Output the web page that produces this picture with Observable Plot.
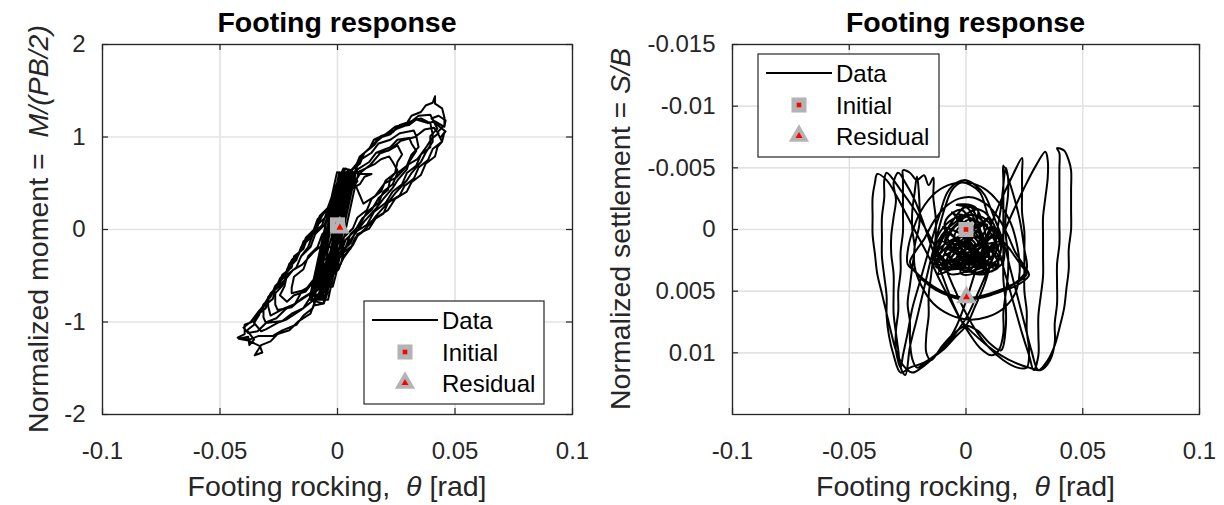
<!DOCTYPE html>
<html>
<head>
<meta charset="utf-8">
<script src="https://cdn.jsdelivr.net/npm/d3@7"></script>
<script src="https://cdn.jsdelivr.net/npm/@observablehq/plot@0.6"></script>
<style>
  body { margin: 0; background: #fff; }
  #wrap { position: relative; width: 1224px; height: 505px; overflow: hidden; background: #fff; }
  #wrap svg { position: absolute; top: 0; }
</style>
</head>
<body>
<div id="wrap"></div>
<script>
// ---------------- DATA ----------------
const xTicks = [-0.1, -0.05, 0, 0.05, 0.1];
const momentTicks = [-2, -1, 0, 1, 2];
const settlementTicks = [-0.015, -0.01, -0.005, 0, 0.005, 0.01];

const titleText = "Footing response";
const xLabelParts = [["Footing rocking,  ", false], ["θ", true], [" [rad]", false]];
const momentLabelParts = [["Normalized moment =  ", false], ["M/(PB/2)", true]];
const settlementLabelParts = [["Normalized settlement = ", false], ["S/B", true]];
const legendLabels = ["Data", "Initial", "Residual"];

// [rotation theta (rad), normalized moment M/(PB/2)]
const momentPath = [
[0,0.05],[0.0015,0.2],[0.003,0.34],[0.004,0.46],[0.005,0.5],[0.0045,0.38],[0.003,0.24],[0.002,0.1],[0.0005,-0.04],[-0.001,-0.18],[-0.0025,-0.32],[-0.0035,-0.46],[-0.005,-0.52],[-0.0075,-0.44],[-0.0065,-0.3],[-0.0058,-0.16],[-0.004,-0.02],[-0.0028,0.12],[-0.0015,0.26],[0.0,0.4],[0.0012,0.54],[0.003,0.6],
[0.0078,0.62],[0.0066,0.48],[0.0054,0.34],[0.0042,0.2],[0.003,0.06],[0.0018,-0.08],[0.0006,-0.22],[-0.0006,-0.36],[-0.0018,-0.5],[-0.003,-0.64],[-0.004,-0.76],[-0.011,-0.76],[-0.01,-0.64],[-0.0088,-0.5],[-0.0076,-0.36],[-0.0064,-0.22],[-0.0052,-0.08],[-0.004,0.06],[-0.0028,0.2],[-0.0016,0.34],[-0.0004,0.48],[0.0008,0.62],
[0.0058,0.56],[0.0055,0.44],[0.0042,0.3],[0.0035,0.16],[0.0018,0.02],[0.0005,-0.12],[-0.0012,-0.26],[-0.0022,-0.4],[-0.0038,-0.54],[-0.0048,-0.66],[-0.008,-0.64],[-0.0092,-0.52],[-0.0078,-0.38],[-0.0068,-0.24],[-0.005,-0.1],[-0.0042,0.04],[-0.0025,0.18],[-0.0018,0.32],[0.0,0.46],[0.0015,0.58],[0.0035,0.66],
[0.0055,0.62],[0.0039,0.48],[0.0031,0.34],[0.0015,0.2],[0.0007,0.06],[-0.0009,-0.08],[-0.0017,-0.22],[-0.0033,-0.36],[-0.0041,-0.5],[-0.0057,-0.64],[-0.0065,-0.76],[-0.0085,-0.74],[-0.0073,-0.64],[-0.0065,-0.5],[-0.0049,-0.36],[-0.0041,-0.22],[-0.0025,-0.08],[-0.0017,0.06],[-0.0001,0.2],[0.0007,0.34],[0.0023,0.48],[0.0031,0.6],
[0.0068,0.62],[0.0062,0.5],[0.0048,0.36],[0.0038,0.22],[0.0025,0.08],[0.0008,-0.06],[-0.0005,-0.2],[-0.0018,-0.34],[-0.003,-0.48],[-0.0045,-0.62],[-0.0055,-0.74],[-0.0085,-0.76],[-0.0105,-0.66],[-0.0095,-0.52],[-0.0085,-0.38],[-0.0068,-0.24],[-0.0058,-0.1],[-0.0042,0.04],[-0.003,0.18],[-0.0015,0.32],[-0.0002,0.46],[0.0012,0.56],
[0.0065,0.6],[0.0058,0.5],[0.0047,0.35],[0.003,0.2],[0.0021,0.05],[0.0004,-0.1],[-0.0005,-0.25],[-0.0021,-0.4],[-0.003,-0.55],[-0.0047,-0.7],[-0.0075,-0.74],[-0.0102,-0.68],[-0.0085,-0.55],[-0.0078,-0.4],[-0.006,-0.25],[-0.0052,-0.1],[-0.0034,0.05],[-0.0025,0.2],[-0.0008,0.35],[0.0001,0.5],[0.0018,0.62],
[0.004,0.6],[0.0048,0.5],[0.0036,0.36],[0.0022,0.22],[0.0012,0.08],[-0.0004,-0.06],[-0.0015,-0.2],[-0.0028,-0.34],[-0.004,-0.48],[-0.0055,-0.58],[-0.0078,-0.56],[-0.0072,-0.42],[-0.0062,-0.28],[-0.0048,-0.14],[-0.0036,0.0],[-0.0022,0.14],[-0.001,0.28],[0.0004,0.42],[0.002,0.52],
[0.006,0.58],[0.011,0.28],[0.016,0.36],[0.02,0.5],[0.025,0.56],[0.03,0.7],[0.034,0.76],[0.038,0.9],[0.04,0.98],[0.043,1.04],[0.041,1.1],[0.037,1.08],[0.033,1.0],[0.027,0.96],[0.022,0.86],[0.018,0.82],[0.014,0.7],[0.01,0.62],[0.007,0.5],[0.005,0.42],
[0.0045,0.54],[0.004,0.42],[0.0028,0.28],[0.0016,0.14],[0.0002,0.0],[-0.0012,-0.14],[-0.0022,-0.28],[-0.0035,-0.42],[-0.0048,-0.56],[-0.0062,-0.7],[-0.0095,-0.72],[-0.0088,-0.58],[-0.0075,-0.44],[-0.006,-0.3],[-0.0052,-0.16],[-0.0035,-0.02],[-0.0025,0.12],[-0.0008,0.26],[0.0003,0.4],[0.0018,0.52],[0.0032,0.62],
[0.0043,0.62],[0.0031,0.48],[0.0019,0.34],[0.0007,0.2],[-0.0005,0.06],[-0.0017,-0.08],[-0.0029,-0.22],[-0.0041,-0.36],[-0.0053,-0.5],[-0.0065,-0.64],[-0.0075,-0.76],[-0.012,-0.76],[-0.011,-0.64],[-0.0098,-0.5],[-0.0086,-0.36],[-0.0074,-0.22],[-0.0062,-0.08],[-0.005,0.06],[-0.0038,0.2],[-0.0026,0.34],[-0.0014,0.48],[-0.0002,0.62],
[0.0055,0.6],[0.005,0.46],[0.0038,0.32],[0.0026,0.18],[0.001,0.04],[-0.0002,-0.1],[-0.0018,-0.24],[-0.003,-0.38],[-0.004,-0.5],[-0.0068,-0.52],[-0.0062,-0.38],[-0.005,-0.24],[-0.0038,-0.1],[-0.0026,0.04],[-0.0012,0.18],[0.0,0.32],[0.0015,0.44],[0.0028,0.5],
[0.006,0.58],[0.0095,0.63],[0.012,0.66],[0.016,0.71],[0.0185,0.76],[0.022,0.79],
[0.0235,0.73],[0.0255,0.64],[0.0225,0.55],[0.0215,0.43],[0.0175,0.34],[0.0145,0.21],[0.0105,0.12],[0.0075,-0.01],[0.0035,-0.11],[0.0015,-0.25],[-0.0025,-0.35],[-0.0055,-0.49],[-0.0105,-0.57],[-0.0135,-0.67],[-0.0185,-0.71],[-0.0215,-0.78],
[-0.0245,-0.71],[-0.0225,-0.61],[-0.0215,-0.49],[-0.0175,-0.41],[-0.0155,-0.29],[-0.0115,-0.19],[-0.0095,-0.05],[-0.0055,0.05],[-0.0035,0.19],[0.0005,0.29],[0.0025,0.43],[0.0065,0.53],[0.0085,0.65],[0.0135,0.73],[0.0165,0.83],[0.0225,0.89],[0.0255,0.97],[0.0305,0.99],
[0.0315,0.93],[0.0335,0.85],[0.0305,0.73],[0.0295,0.65],[0.0255,0.53],[0.0235,0.45],[0.0195,0.33],[0.0165,0.23],[0.0115,0.09],[0.0085,-0.01],[0.0045,-0.15],[0.0025,-0.25],[-0.0015,-0.39],[-0.0045,-0.49],[-0.0095,-0.63],[-0.0125,-0.71],[-0.0185,-0.81],[-0.0225,-0.85],[-0.0285,-0.93],
[-0.0295,-0.83],[-0.0295,-0.75],[-0.0265,-0.63],[-0.0245,-0.55],[-0.0205,-0.43],[-0.0185,-0.33],[-0.0145,-0.19],[-0.0125,-0.09],[-0.0085,0.05],[-0.0065,0.15],[-0.0025,0.29],[-0.0005,0.39],[0.0035,0.53],[0.0055,0.63],[0.0095,0.75],[0.0115,0.83],[0.0165,0.95],[0.0195,1.01],[0.0255,1.09],[0.0295,1.13],[0.0335,1.19],[0.0355,1.2],
[0.0395,1.15],[0.0405,1.03],[0.0405,0.95],[0.0375,0.83],[0.0355,0.73],[0.0315,0.61],[0.0295,0.53],[0.0245,0.39],[0.0215,0.29],[0.0165,0.15],[0.0135,0.05],[0.0085,-0.07],[0.0065,-0.17],[0.0025,-0.31],[0.0005,-0.41],[-0.0035,-0.55],[-0.0065,-0.65],[-0.0115,-0.79],[-0.0155,-0.87],[-0.0215,-0.97],[-0.0255,-1.01],[-0.0305,-1.08],[-0.0325,-1.1],
[-0.0355,-1.01],[-0.0335,-0.93],[-0.0315,-0.81],[-0.0285,-0.73],[-0.0265,-0.61],[-0.0225,-0.51],[-0.0205,-0.37],[-0.0165,-0.27],[-0.0145,-0.13],[-0.0105,-0.03],[-0.0085,0.11],[-0.0045,0.21],[-0.0025,0.35],[0.0015,0.45],[0.0035,0.59],[0.0075,0.67],[0.0095,0.79],[0.0135,0.87],[0.0155,0.97],[0.0205,1.03],[0.0245,1.11],[0.0295,1.15],[0.0315,1.23],[0.0355,1.27],[0.0375,1.34],[0.0405,1.37],[0.0415,1.44],
[0.0415,1.36],[0.0445,1.31],[0.0455,1.21],[0.0455,1.13],[0.0425,1.05],[0.0445,0.95],[0.0405,0.87],[0.0385,0.75],[0.0345,0.67],[0.0325,0.55],[0.0285,0.47],[0.0265,0.37],[0.0215,0.29],[0.0195,0.17],[0.0145,0.09],[0.0115,-0.01],[0.0075,-0.09],[0.0055,-0.21],[0.0025,-0.29],[0.0005,-0.43],[-0.0035,-0.53],[-0.0055,-0.67],[-0.0095,-0.77],[-0.0115,-0.91],[-0.0165,-0.99],[-0.0205,-1.09],[-0.0255,-1.13],[-0.0285,-1.21],[-0.0325,-1.25],[-0.0345,-1.33],
[-0.0352,-1.36],[-0.032,-1.33],[-0.033,-1.26],[-0.038,-1.2],[-0.042,-1.18],[-0.038,-1.16],
[-0.0375,-1.25],[-0.0355,-1.19],[-0.0385,-1.09],[-0.0355,-1.03],[-0.0345,-0.93],[-0.0305,-0.85],[-0.0295,-0.73],[-0.0265,-0.65],[-0.0245,-0.53],[-0.0215,-0.45],[-0.0195,-0.33],[-0.0155,-0.23],[-0.0135,-0.09],[-0.0095,0.01],[-0.0075,0.15],[-0.0035,0.25],[-0.0015,0.39],[0.0025,0.49],[0.0045,0.61],[0.0085,0.69],[0.0105,0.81],[0.0145,0.89],[0.0175,0.99],[0.0225,1.03],[0.0255,1.11],[0.0305,1.13],[0.0335,1.19],[0.0385,1.15],[0.0415,1.17],[0.0455,1.11],
[0.046,1.18],[0.043,1.23],[0.04,1.2],[0.043,1.12],[0.046,1.06],[0.044,1.0],
[0.0455,1.05],[0.0445,0.95],[0.0425,0.89],[0.0415,0.79],[0.0375,0.71],[0.0355,0.59],[0.0315,0.51],[0.0295,0.41],[0.0245,0.33],[0.0215,0.21],[0.0165,0.13],[0.0135,0.01],[0.0085,-0.05],[0.0065,-0.17],[0.0025,-0.25],[0.0015,-0.37],[-0.0025,-0.47],[-0.0045,-0.61],[-0.0085,-0.71],[-0.0105,-0.85],[-0.0145,-0.93],[-0.0175,-1.03],[-0.0235,-1.09],[-0.0275,-1.15],[-0.0335,-1.15],[-0.0375,-1.19],[-0.0425,-1.17],
[-0.0395,-1.13],[-0.0395,-1.03],[-0.0355,-0.99],[-0.0335,-0.89],[-0.0305,-0.81],[-0.0285,-0.69],[-0.0255,-0.61],[-0.0235,-0.49],[-0.0195,-0.41],[-0.0185,-0.29],[-0.0145,-0.21],[-0.0125,-0.07],[-0.0085,0.03],[-0.0065,0.17],[-0.0025,0.27],[-0.0005,0.41],[0.0035,0.51],[0.0055,0.63],[0.0095,0.71],[0.0115,0.83],[0.0155,0.91],[0.0185,1.01],[0.0235,1.05],[0.0265,1.13],[0.0315,1.17],[0.0345,1.23],[0.0395,1.24],
[0.0405,1.19],[0.0425,1.09],[0.0395,1.01],[0.0395,0.89],[0.0355,0.81],[0.0335,0.69],[0.0295,0.61],[0.0275,0.49],[0.0235,0.41],[0.0205,0.29],[0.0155,0.19],[0.0125,0.05],[0.0075,-0.03],[0.0055,-0.15],[0.0015,-0.25],[-0.0005,-0.39],[-0.0045,-0.49],[-0.0075,-0.63],[-0.0115,-0.73],[-0.0145,-0.85],[-0.0195,-0.91],[-0.0235,-0.99],[-0.0305,-1.01],
[-0.0315,-0.95],[-0.0315,-0.83],[-0.0275,-0.75],[-0.0265,-0.63],[-0.0225,-0.55],[-0.0215,-0.43],[-0.0175,-0.33],[-0.0155,-0.19],[-0.0115,-0.09],[-0.0085,0.05],[-0.0045,0.15],[-0.0025,0.29],[0.0015,0.39],[0.0035,0.53],[0.0075,0.63],[0.0095,0.75],[0.0145,0.83],[0.0175,0.93],[0.0225,0.97],[0.0265,1.04],[0.0325,1.07],
[0.0335,1.01],[0.0345,0.89],[0.0315,0.81],[0.0295,0.69],[0.0255,0.61],[0.0235,0.49],[0.0195,0.41],[0.0175,0.29],[0.0125,0.19],[0.0095,0.05],[0.0055,-0.05],[0.0035,-0.19],[-0.0005,-0.29],[-0.0025,-0.43],[-0.0075,-0.53],[-0.0105,-0.67],[-0.0155,-0.75],[-0.0195,-0.84],[-0.0255,-0.87],
[-0.0265,-0.81],[-0.0265,-0.69],[-0.0235,-0.61],[-0.0215,-0.49],[-0.0175,-0.41],[-0.0155,-0.29],[-0.0125,-0.19],[-0.0105,-0.05],[-0.0065,0.05],[-0.0045,0.19],[-0.0005,0.29],[0.0015,0.43],[0.0055,0.53],[0.0085,0.65],[0.0135,0.73],[0.0165,0.83],[0.0215,0.85],[0.0255,0.91],
[0.0275,0.81],[0.0255,0.73],[0.0245,0.61],[0.0205,0.53],[0.0185,0.41],[0.0145,0.33],[0.0125,0.21],[0.0085,0.13],[0.0065,0.01],[0.0025,-0.09],[0.0005,-0.23],[-0.0035,-0.33],[-0.0055,-0.47],[-0.0105,-0.55],[-0.0135,-0.65],[-0.0195,-0.69],
[-0.0195,-0.63],[-0.0185,-0.51],[-0.0145,-0.43],[-0.0125,-0.29],[-0.0085,-0.19],[-0.0065,-0.05],[-0.0025,0.05],[-0.0005,0.19],[0.0035,0.29],[0.0055,0.43],[0.0095,0.49],[0.0115,0.57],[0.0145,0.6],
[0.0088,0.6],[0.0076,0.48],[0.0064,0.34],[0.0052,0.2],[0.004,0.06],[0.0028,-0.08],[0.0016,-0.22],[0.0004,-0.36],[-0.0008,-0.5],[-0.002,-0.62],[-0.0045,-0.62],[-0.0033,-0.5],[-0.0021,-0.36],[-0.0009,-0.22],[0.0003,-0.08],[0.0015,0.06],[0.0027,0.2],[0.0039,0.34],[0.0051,0.48],[0.0063,0.6],
[0.0085,0.52],[0.0055,0.44],[0.0045,0.3],[0.003,0.16],[0.0018,0.02],[0.0,-0.12],[-0.001,-0.26],[-0.0025,-0.4],[-0.0035,-0.54],[-0.005,-0.68],[-0.006,-0.8],[-0.009,-0.78],[-0.0105,-0.68],[-0.0092,-0.54],[-0.0082,-0.4],[-0.0068,-0.26],[-0.0055,-0.12],[-0.0042,0.02],[-0.0028,0.16],[-0.0018,0.3],[0.0,0.44],[0.0012,0.56],[0.0028,0.64],
[-0.002,-0.2],[-0.006,-0.16],[-0.01,-0.24],[-0.015,-0.38],[-0.019,-0.44],[-0.024,-0.6],[-0.028,-0.68],[-0.032,-0.84],[-0.034,-0.9],[-0.037,-1.0],[-0.04,-1.06],[-0.038,-1.12],[-0.034,-1.1],[-0.03,-1.0],[-0.026,-0.96],[-0.022,-0.86],[-0.018,-0.8],[-0.015,-0.66],[-0.011,-0.6],[-0.008,-0.46],[-0.005,-0.36],[-0.003,-0.24],
[0.0065,0.6],[0.0053,0.48],[0.0041,0.34],[0.0029,0.2],[0.0017,0.06],[0.0005,-0.08],[-0.0007,-0.22],[-0.0019,-0.36],[-0.0031,-0.5],[-0.0043,-0.64],[-0.0053,-0.72],[-0.0098,-0.7],[-0.009,-0.64],[-0.0078,-0.5],[-0.0066,-0.36],[-0.0054,-0.22],[-0.0042,-0.08],[-0.003,0.06],[-0.0018,0.2],[-0.0006,0.34],[0.0006,0.48],[0.0018,0.6],
[0.0055,0.64],[0.0062,0.5],[0.0043,0.35],[0.0035,0.2],[0.0016,0.05],[0.0009,-0.1],[-0.0011,-0.25],[-0.0016,-0.4],[-0.0036,-0.55],[-0.0042,-0.68],[-0.0058,-0.8],[-0.0095,-0.82],[-0.0112,-0.72],[-0.0096,-0.6],[-0.009,-0.45],[-0.0069,-0.3],[-0.0064,-0.15],[-0.0043,0.0],[-0.0036,0.15],[-0.0017,0.3],[-0.001,0.45],[0.0008,0.56],[0.0025,0.66],
[0.0062,0.64],[0.0058,0.5],[0.0045,0.36],[0.0032,0.22],[0.0018,0.08],[0.0005,-0.06],[-0.0008,-0.2],[-0.002,-0.34],[-0.0035,-0.48],[-0.0045,-0.6],[-0.0075,-0.62],[-0.0082,-0.5],[-0.007,-0.36],[-0.0058,-0.22],[-0.0045,-0.08],[-0.0032,0.06],[-0.002,0.2],[-0.0005,0.34],[0.0008,0.46],[0.0025,0.56],
[0.0072,0.62],[0.0055,0.5],[0.005,0.35],[0.0028,0.2],[0.0024,0.05],[0.0001,-0.1],[-0.0002,-0.25],[-0.0024,-0.4],[-0.0028,-0.55],[-0.005,-0.66],[-0.0082,-0.62],[-0.0091,-0.5],[-0.0072,-0.36],[-0.0066,-0.22],[-0.0045,-0.08],[-0.0039,0.06],[-0.0018,0.2],[-0.0013,0.34],[0.0008,0.48],[0.0012,0.58],
[0.005,0.58],[0.0048,0.46],[0.0035,0.32],[0.0022,0.18],[0.001,0.04],[-0.0005,-0.1],[-0.0018,-0.24],[-0.003,-0.38],[-0.0042,-0.52],[-0.006,-0.62],[-0.0088,-0.6],[-0.0078,-0.46],[-0.0065,-0.32],[-0.0055,-0.18],[-0.004,-0.04],[-0.0028,0.1],[-0.0015,0.24],[0.0,0.38],[0.0012,0.48],
[0.0048,0.6],[0.0052,0.46],[0.0036,0.32],[0.0033,0.18],[0.0013,0.04],[0.0011,-0.1],[-0.0012,-0.24],[-0.0012,-0.38],[-0.0034,-0.52],[-0.004,-0.62],[-0.0072,-0.6],[-0.0079,-0.48],[-0.006,-0.34],[-0.0055,-0.2],[-0.0034,-0.06],[-0.003,0.08],[-0.0008,0.22],[-0.0004,0.36],[0.0016,0.5],
[0.0038,0.5],[0.0032,0.38],[0.002,0.24],[0.0008,0.1],[-0.0006,-0.04],[-0.0018,-0.18],[-0.003,-0.32],[-0.0042,-0.44],[-0.0068,-0.42],[-0.006,-0.3],[-0.0048,-0.16],[-0.0035,-0.02],[-0.0022,0.12],[-0.0008,0.26],[0.0005,0.38],[0.0018,0.44],
[0.003,0.4],[0.0022,0.28],[0.001,0.14],[-0.0002,0.0],[-0.0015,-0.14],[-0.0028,-0.28],[-0.004,-0.36],[-0.0058,-0.3],[-0.0048,-0.16],[-0.0035,-0.04],[-0.002,0.08],[-0.0008,0.18],[0.0005,0.26],[0.0015,0.2],[0.001,0.1],[0.001,0.02]
];
const momentInitial = [[0, 0.05]];
const momentResidual = [[0.001, 0.02]];

// [rotation theta (rad), normalized settlement S/B]
const settlementPath = [
[0,0],[0.006,0.0014],[-0.004,0.0022],[0.01,0.0028],[-0.009,0.001],[0.003,-0.0012],[0.013,0.0018],[-0.002,0.0032],[-0.012,0.0024],[0.002,0.0004],[0.014,0.003],[0.006,0.0035],[-0.007,0.0028],[-0.013,0.0012],[-0.006,-0.0008],[0.007,-0.001],[0.015,0.0016],[0.009,0.0032],[-0.001,0.0024],[-0.01,0.0032],[-0.014,0.002],[-0.008,0.0002],[0.001,0.0016],[0.009,0.0006],[0.012,-0.0002],[0.016,0.0026],[0.004,0.0036],[-0.004,0.0012],[-0.011,0.0034],[-0.012,0.0026],[-0.003,-0.0004],[0.004,0.0024],[0.011,0.0034],[0.014,0.0022],[0.006,0.0008],[-0.002,-0.0016],[-0.009,-0.0006],[-0.005,0.0018],[0.003,0.003],[-0.007,0.0036],[-0.012,0.0018],[-0.001,0.0006],[0.007,0.002],[0.012,0.0012],[0.002,0.0034],[-0.006,0.0012],[-0.01,0.0026],[-0.003,0.0022],[0.005,0.0002],[0.01,0.0024],[0.004,-0.0018],[-0.004,-0.002],[0.008,-0.0014],[0.013,0.0008],[-0.008,0.003],[0.0,0.001],[0.008,0.003],[-0.005,0.0006],[0.002,-0.0008],[0.009,0.0018],
[0.003,0.0026],[-0.006,0.0032],[0.011,0.0016],[-0.011,0.0008],[0.005,-0.0016],[-0.002,0.0036],[0.013,0.0028],[-0.013,0.003],[0.0,-0.0018],[0.008,0.0036],[-0.009,0.0018],[0.015,0.0008],[-0.004,-0.0012],[0.002,0.002],[-0.012,0.0036],[0.01,-0.001],[-0.007,0.0022],[0.006,0.0028],[-0.003,0.0008],[0.012,0.0032],[-0.01,-0.0002],[0.004,0.0012],[-0.005,0.0028],[0.014,0.0014],[-0.014,0.0028],[0.001,-0.002],[0.007,0.0024],[-0.008,0.0014],[0.009,-0.0004],[-0.001,0.0034],[0.016,0.0022],[-0.011,0.0024],[0.003,0.0006],[-0.006,-0.0014],[0.011,0.0026],[-0.002,0.0018],[0.006,-0.0006],[-0.009,0.0032],[0.013,0.0002],[0.0,0.0026],
[0.012,0.0006],[0.017,0.0012],[0.021,0.0022],[0.024,0.003],[0.026,0.0036],[0.022,0.0043],[0.016,0.0048],[0.010,0.0052],[0.004,0.0055],[-0.002,0.0055],[-0.008,0.0052],[-0.014,0.0046],[-0.019,0.0039],[-0.023,0.0031],[-0.024,0.0026],[-0.021,0.0016],[-0.018,0.0008],[-0.014,-0.0006],[-0.009,-0.0018],[-0.003,-0.0025],[0.003,-0.0026],[0.009,-0.002],[0.014,-0.0009],[0.018,0.0005],[0.021,0.0018],[0.025,0.003],[0.027,0.0037],[0.023,0.0044],[0.017,0.0049],[0.011,0.0053],[0.005,0.0056],[-0.001,0.0057],[-0.007,0.0054],[-0.013,0.0049],[-0.018,0.0042],[-0.022,0.0034],[-0.025,0.0028],
[-0.025,0.0018],[-0.023,0.0002],[-0.019,-0.0016],[-0.013,-0.003],[-0.006,-0.0037],[0.001,-0.0038],[0.008,-0.0033],[0.014,-0.0022],[0.019,-0.0006],[0.022,0.0014],[0.023,0.0034],[0.021,0.0052],[0.016,0.0064],[0.009,0.0071],[0.001,0.0073],[-0.007,0.0069],[-0.014,0.006],[-0.019,0.0046],[-0.022,0.003],[-0.022,0.0014],[-0.020,-0.0004],[-0.020,-0.0024],[-0.021,-0.0043],
[-0.022,-0.003],[-0.023,-0.0015],[-0.023,0.0],[-0.022,0.0015],[-0.023,0.003],[-0.024,0.0045],[-0.025,0.006],[-0.024,0.0075],[-0.024,0.009],[-0.023,0.0105],[-0.021,0.0112],
[-0.016,0.0106],[-0.010,0.0098],[-0.005,0.0088],[0.0,0.0078],[0.004,0.0062],[0.008,0.0044],[0.011,0.0024],[0.013,0.0004],[0.015,-0.0018],[0.016,-0.0036],[0.017,-0.005],
[0.018,-0.0042],[0.018,-0.0028],[0.017,-0.0012],[0.017,0.0004],[0.018,0.002],[0.018,0.0036],[0.017,0.0052],[0.016,0.0068],[0.016,0.0084],[0.014,0.0098],[0.011,0.0102],
[0.006,0.0096],[0.002,0.0086],[-0.002,0.0074],[-0.006,0.0058],[-0.010,0.0038],[-0.014,0.0018],[-0.018,-0.0004],[-0.022,-0.0024],[-0.026,-0.0038],[-0.029,-0.0046],
[-0.031,-0.0038],[-0.030,-0.0024],[-0.031,-0.001],[-0.032,0.0005],[-0.032,0.002],[-0.031,0.0036],[-0.031,0.0052],[-0.031,0.0068],[-0.030,0.0084],[-0.029,0.0098],[-0.028,0.0112],[-0.026,0.0118],
[-0.024,0.0095],[-0.021,0.0072],[-0.018,0.0048],[-0.015,0.0024],[-0.012,0.0002],[-0.009,-0.0018],[-0.006,-0.0032],[-0.002,-0.0038],[0.002,-0.0036],[0.006,-0.003],[0.009,-0.0014],[0.012,0.0004],[0.015,0.0024],[0.018,0.0044],[0.021,0.0064],[0.024,0.0084],[0.027,0.0102],[0.029,0.0114],
[0.031,0.0102],[0.031,0.0086],[0.031,0.007],[0.032,0.0054],[0.033,0.0038],[0.033,0.0022],[0.033,0.0006],[0.033,-0.001],[0.034,-0.0026],[0.035,-0.0042],[0.035,-0.0056],[0.034,-0.0063],
[0.030,-0.0052],[0.025,-0.0034],[0.020,-0.0014],[0.015,0.0008],[0.010,0.003],[0.005,0.0052],[0.0,0.0072],[-0.006,0.0088],[-0.012,0.01],[-0.018,0.0108],[-0.024,0.0112],[-0.028,0.0116],
[-0.031,0.0102],[-0.033,0.0086],[-0.034,0.007],[-0.034,0.0054],[-0.035,0.0038],[-0.036,0.0022],[-0.036,0.0006],[-0.036,-0.001],[-0.035,-0.0026],[-0.035,-0.004],[-0.034,-0.0046],
[-0.028,-0.0032],[-0.022,-0.0016],[-0.016,0.0004],[-0.010,0.0026],[-0.005,0.0048],[0.0,0.0068],[0.005,0.0084],[0.010,0.0096],[0.016,0.0106],[0.022,0.0112],[0.026,0.0112],
[0.027,0.0098],[0.026,0.0082],[0.026,0.0066],[0.025,0.005],[0.025,0.0034],[0.025,0.0018],[0.025,0.0002],[0.024,-0.0014],[0.024,-0.003],[0.024,-0.0046],[0.024,-0.0058],
[0.020,-0.0044],[0.016,-0.0028],[0.012,-0.001],[0.008,0.001],[0.004,0.0034],[0.0,0.0058],[-0.004,0.0078],[-0.009,0.0094],[-0.014,0.0104],[-0.019,0.0112],[-0.023,0.0116],
[-0.027,0.011],[-0.030,0.0098],[-0.032,0.0084],[-0.034,0.0068],[-0.036,0.0052],[-0.038,0.0036],[-0.039,0.002],[-0.040,0.0004],[-0.040,-0.001],[-0.040,-0.0026],[-0.039,-0.0038],[-0.038,-0.0045],
[-0.034,-0.004],[-0.030,-0.0028],[-0.026,-0.0014],[-0.021,0.0004],[-0.016,0.0022],[-0.011,0.0042],[-0.006,0.006],[-0.002,0.0074],[0.003,0.0084],[0.009,0.0094],[0.015,0.0102],[0.021,0.0108],[0.027,0.0112],[0.032,0.0114],[0.036,0.0106],
[0.038,0.0092],[0.038,0.0076],[0.039,0.006],[0.039,0.0044],[0.039,0.0028],[0.040,0.0012],[0.040,-0.0004],[0.040,-0.002],[0.040,-0.0036],[0.040,-0.005],[0.040,-0.0062],[0.039,-0.0066],
[0.042,-0.0064],[0.044,-0.0056],[0.045,-0.0048],[0.045,-0.0032],[0.045,-0.0016],[0.045,0.0],[0.044,0.0016],[0.044,0.0032],[0.043,0.0048],[0.042,0.0064],[0.040,0.008],[0.038,0.0094],[0.035,0.0106],[0.031,0.0114],
[0.028,0.0098],[0.025,0.0076],[0.022,0.0054],[0.019,0.0032],[0.016,0.001],[0.012,-0.001],[0.008,-0.0028],[0.004,-0.0036],[0.0,-0.004],[-0.004,-0.0038],[-0.008,-0.003],[-0.011,-0.0014],[-0.014,0.0004],[-0.017,0.0024],[-0.020,0.0044],[-0.023,0.0064],[-0.025,0.0084],[-0.027,0.0102],[-0.028,0.0112],
[-0.030,0.0098],[-0.030,0.0082],[-0.029,0.0066],[-0.029,0.005],[-0.028,0.0034],[-0.028,0.0018],[-0.027,0.0002],[-0.027,-0.0014],[-0.027,-0.003],[-0.027,-0.0042],[-0.027,-0.0048],
[-0.024,-0.0046],[-0.021,-0.004],[-0.018,-0.0044],[-0.016,-0.0036],[-0.014,-0.0042],
[-0.014,-0.0026],[-0.013,-0.001],[-0.013,0.0006],[-0.014,0.0022],[-0.015,0.0038],[-0.016,0.0054],[-0.016,0.007],[-0.017,0.0086],[-0.017,0.01],[-0.015,0.0106],
[-0.010,0.0094],[-0.005,0.0084],[0.0,0.0078],[0.005,0.0082],[0.010,0.0092],[0.015,0.0098],
[0.017,0.008],[0.017,0.006],[0.016,0.004],[0.016,0.002],[0.016,0.0],[0.016,-0.002],[0.016,-0.004],[0.016,-0.0052],
[0.020,-0.003],[0.023,-0.0008],[0.025,0.0016],[0.026,0.0032],[0.022,0.0042],[0.016,0.0048],[0.010,0.0052],[0.004,0.0055],[0.0005,0.0056]
];
const settlementInitial = [[0, 0]];
const settlementResidual = [[0.0002, 0.0055]];

// ---------------- RENDER ----------------
const FONT = "'Liberation Sans', Arial, Helvetica, sans-serif";
const W = 612, H = 505, MT = 44, MB = 91;
const AX = "#262626", GRID = "#e3e3e3", GRAY = "#b3b3b3", RED = "#ff0000";
const LABEL_SIZE = 28.5;
const wrap = document.getElementById("wrap");

function addText(svg, {x, y, rotate = 0, size, weight = "normal", fill = AX, parts}) {
  const t = d3.select(svg).append("text")
    .attr("transform", `translate(${x},${y}) rotate(${rotate})`)
    .attr("text-anchor", "middle")
    .attr("font-family", FONT)
    .attr("font-size", size)
    .attr("font-weight", weight)
    .attr("fill", fill)
    .style("white-space", "pre");
  parts.forEach(([s, it]) => t.append("tspan").attr("font-style", it ? "italic" : "normal").text(s));
}

function addLegend(svg, x0, y0, w) {
  const g = d3.select(svg).append("g");
  g.append("rect").attr("x", x0).attr("y", y0).attr("width", w).attr("height", 103)
    .attr("fill", "#fff").attr("stroke", AX).attr("stroke-width", 1.2);
  const rows = [y0 + 19, y0 + 51, y0 + 82];
  g.append("line").attr("x1", x0 + 8).attr("x2", x0 + 74).attr("y1", rows[0]).attr("y2", rows[0])
    .attr("stroke", "#000").attr("stroke-width", 2);
  const mx = x0 + 41;
  const sym = (type, r) => d3.symbol().type(type).size(Math.PI * r * r)();
  g.append("path").attr("transform", `translate(${mx},${rows[1]})`).attr("d", sym(d3.symbolSquare, 8.5)).attr("fill", GRAY);
  g.append("path").attr("transform", `translate(${mx},${rows[1]})`).attr("d", sym(d3.symbolSquare, 2.6)).attr("fill", RED);
  g.append("path").attr("transform", `translate(${mx},${rows[2]})`).attr("d", sym(d3.symbolTriangle, 7.5)).attr("fill", GRAY);
  g.append("path").attr("transform", `translate(${mx},${rows[2]})`).attr("d", sym(d3.symbolTriangle, 2.6)).attr("fill", RED);
  legendLabels.forEach((s, i) => {
    g.append("text").attr("x", x0 + 78).attr("y", rows[i] + 8.5)
      .attr("text-anchor", "start")
      .attr("font-family", FONT).attr("font-size", 24).attr("fill", "#000").text(s);
  });
}

function panel({left, ml, mr, path, curve, yDomain, yReverse, yTicks, yGrid, initial, residual, yLabel, yLabelX, legendXY}) {
  const innerW = W - ml - mr, innerH = H - MT - MB;
  const X = d => d[0], Y = d => d[1];
  const svg = Plot.plot({
    width: W, height: H,
    marginLeft: ml, marginRight: mr, marginTop: MT, marginBottom: MB,
    style: {background: "transparent", color: AX, fontFamily: FONT, overflow: "visible"},
    x: {domain: [-0.1, 0.1]},
    y: {domain: yDomain, reverse: yReverse},
    marks: [
      Plot.ruleX(xTicks, {stroke: GRID, strokeWidth: 1.6}),
      Plot.ruleY(yGrid, {stroke: GRID, strokeWidth: 1.6}),
      Plot.line(path, {x: X, y: Y, stroke: "#000", strokeWidth: 2, strokeLinejoin: "round", curve}),
      Plot.dot(initial, {x: X, y: Y, symbol: "square", r: 8.5, fill: GRAY}),
      Plot.dot(initial, {x: X, y: Y, symbol: "square", r: 2.6, fill: RED}),
      Plot.dot(residual, {x: X, y: Y, symbol: "triangle", r: 7.5, fill: GRAY}),
      Plot.dot(residual, {x: X, y: Y, symbol: "triangle", r: 2.6, fill: RED}),
      Plot.tickX(xTicks, {x: d => d, insetTop: innerH - 6, stroke: AX, strokeWidth: 1.2}),
      Plot.tickX(xTicks, {x: d => d, insetBottom: innerH - 6, stroke: AX, strokeWidth: 1.2}),
      Plot.tickY(yTicks, {y: d => d, insetRight: innerW - 6, stroke: AX, strokeWidth: 1.2}),
      Plot.tickY(yTicks, {y: d => d, insetLeft: innerW - 6, stroke: AX, strokeWidth: 1.2}),
      Plot.frame({stroke: AX, strokeWidth: 1.3}),
      Plot.axisX({ticks: xTicks, tickSize: 0, tickPadding: 27, fontSize: 24, tickFormat: d => String(d), label: null}),
      Plot.axisY({ticks: yTicks, tickSize: 0, tickPadding: 17, fontSize: 24, tickFormat: d => String(d), label: null})
    ]
  });
  svg.style.left = left + "px";
  const cx = ml + innerW / 2;
  addText(svg, {x: cx, y: 32, size: LABEL_SIZE, weight: "bold", fill: "#000", parts: [[titleText, false]]});
  addText(svg, {x: cx, y: 496, size: LABEL_SIZE, parts: xLabelParts});
  addText(svg, {x: yLabelX, y: MT + innerH / 2, rotate: -90, size: LABEL_SIZE, parts: yLabel});
  addLegend(svg, legendXY[0], legendXY[1], legendXY[2]);
  wrap.appendChild(svg);
}

panel({
  left: 0, ml: 102, mr: 40, path: momentPath, curve: "linear",
  yDomain: [-2, 2], yReverse: false, yTicks: momentTicks, yGrid: momentTicks,
  initial: momentInitial, residual: momentResidual,
  yLabel: momentLabelParts, yLabelX: 48, legendXY: [364, 301, 180]
});
panel({
  left: 612, ml: 120, mr: 25, path: settlementPath, curve: "catmull-rom",
  yDomain: [-0.015, 0.015], yReverse: true, yTicks: settlementTicks, yGrid: settlementTicks,
  initial: settlementInitial, residual: settlementResidual,
  yLabel: settlementLabelParts, yLabelX: 18, legendXY: [146, 54, 181]
});
</script>
</body>
</html>
